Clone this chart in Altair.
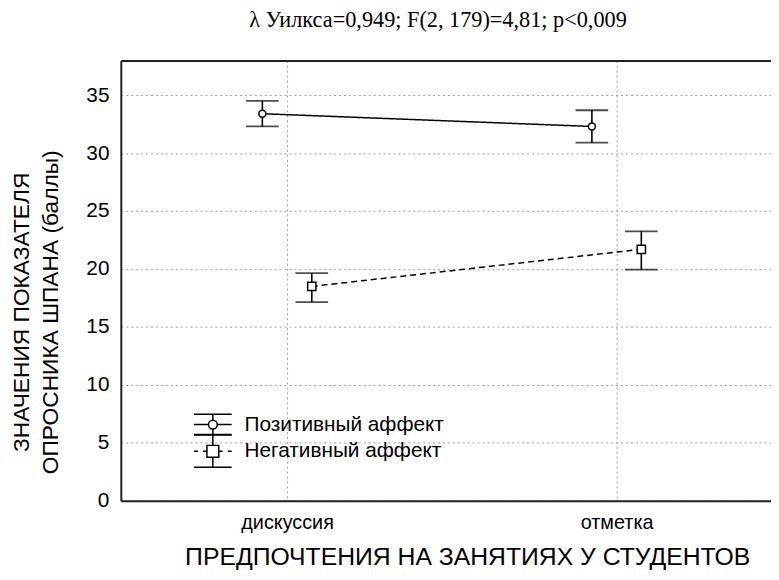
import json
import altair as alt
import pandas as pd

# ---- data ----
categories = ["дискуссия", "отметка"]
series_names = ["Позитивный аффект", "Негативный аффект"]
pos_mean = [33.4, 32.3]
pos_hi = [34.5, 33.7]
pos_lo = [32.3, 30.9]
neg_mean = [18.5, 21.7]
neg_hi = [19.65, 23.25]
neg_lo = [17.15, 19.95]
y_ticks = [0, 5, 10, 15, 20, 25, 30, 35]

title_text = "λ Уилкса=0,949; F(2, 179)=4,81; p<0,009"
x_title = "ПРЕДПОЧТЕНИЯ НА ЗАНЯТИЯХ У СТУДЕНТОВ"
y_title = ["ЗНАЧЕНИЯ ПОКАЗАТЕЛЯ", "ОПРОСНИКА ШПАНА (баллы)"]

rows = []
for i, c in enumerate(categories):
    rows.append(dict(cat=c, idx=i, sidx=0, series=series_names[0],
                     mean=pos_mean[i], hi=pos_hi[i], lo=pos_lo[i]))
    rows.append(dict(cat=c, idx=i, sidx=1, series=series_names[1],
                     mean=neg_mean[i], hi=neg_hi[i], lo=neg_lo[i]))
df = pd.DataFrame(rows)

FONT = "Liberation Sans"
INK = "#000000"
FRAME = "#222222"

xscale = alt.Scale(domain=[-0.5045, 1.4685], nice=False, zero=False)
yscale = alt.Scale(domain=[0, 38], nice=False, zero=True)

cat_js = json.dumps(categories, ensure_ascii=False)

x_axis = alt.Axis(values=[0, 1], labelExpr=f"{cat_js}[datum.value]",
                  title=x_title, grid=True, gridDash=[2, 3], gridColor="#9a9a9a",
                  gridWidth=1, ticks=False, domainColor=FRAME, domainWidth=2,
                  labelFont=FONT, labelFontSize=20, labelColor=INK, labelPadding=12,
                  titleFont=FONT, titleFontSize=25, titleFontWeight="normal",
                  titleColor=INK, titleX=350, titleY=44, titleBaseline="top",
                  titleAlign="center")
x_top_axis = alt.Axis(orient="top", labels=False, ticks=False, grid=False,
                      title=None, domainColor=FRAME, domainWidth=2)
y_axis = alt.Axis(values=y_ticks, title=y_title, grid=True, gridDash=[2, 3],
                  gridColor="#9a9a9a", gridWidth=1, ticks=False, domainColor=FRAME,
                  domainWidth=2, labelFont=FONT, labelFontSize=21, labelColor=INK,
                  labelPadding=12, titleFont=FONT, titleFontSize=23,
                  titleFontWeight="normal", titleColor=INK, titleLineHeight=29,
                  titleX=-111, titleY=254, titleBaseline="top", titleAlign="center",
                  titleAngle=270)

base = alt.Chart(df).transform_calculate(xp="datum.idx + (datum.sidx - 0.5) * 0.15")

x_main = alt.X("xp:Q", scale=xscale, axis=x_axis)
x_plain = alt.X("xp:Q", scale=xscale, axis=None)
x_top = alt.X("xp:Q", scale=xscale, axis=x_top_axis)

lines = base.mark_line(color=INK, strokeWidth=1.5).encode(
    x=x_main,
    y=alt.Y("mean:Q", scale=yscale, axis=y_axis),
    detail="series:N",
    strokeDash=alt.StrokeDash("series:N", scale=alt.Scale(domain=series_names,
                              range=[[1, 0], [6, 4]]), legend=None),
)

stems = base.mark_rule(color=INK, strokeWidth=1.6).encode(
    x=x_plain,
    y=alt.Y("lo:Q", scale=yscale, axis=y_axis),
    y2="hi:Q",
)

caps_hi = base.mark_tick(orient="horizontal", size=33, thickness=1.8, color=INK).encode(
    x=x_plain, y=alt.Y("hi:Q", scale=yscale, axis=y_axis))
caps_lo = base.mark_tick(orient="horizontal", size=33, thickness=1.8, color=INK).encode(
    x=x_plain, y=alt.Y("lo:Q", scale=yscale, axis=y_axis))

points = base.mark_point(filled=True, fill="white", stroke=INK, strokeWidth=1.5,
                         opacity=1).encode(
    x=x_plain,
    y=alt.Y("mean:Q", scale=yscale, axis=y_axis),
    shape=alt.Shape("series:N", scale=alt.Scale(domain=series_names,
                    range=["circle", "square"]), legend=None),
    size=alt.Size("series:N", scale=alt.Scale(domain=series_names, range=[50, 70]),
                  legend=None),
)

# legend glyphs (error bar + marker), unit = 16 px
path_pos = ("M-1.19,-0.66H1.19M-1.19,0.66H1.19M0,-0.66V-0.28M0,0.28V0.66"
            "M-1.19,0H-0.28M0.28,0H1.19"
            "M0.28,0A0.28,0.28,0,1,1,-0.28,0A0.28,0.28,0,1,1,0.28,0Z")
path_neg = ("M-1.19,-1.06H1.19M-1.19,1.0H1.19M0,-1.06V-0.375M0,0.375V1.0"
            "M-1.19,0H-0.94M-0.62,0H-0.375M0.375,0H0.62M0.94,0H1.19"
            "M-0.375,-0.375H0.375V0.375H-0.375Z")


def legend_layer(k, path, ly, x_enc):
    return base.transform_filter(f"datum.sidx == {k} && false").mark_point(
        filled=False, color=INK, strokeWidth=1.5, opacity=1).encode(
        x=x_enc,
        y=alt.Y("mean:Q", scale=yscale, axis=y_axis),
        shape=alt.Shape("series:N",
                        scale=alt.Scale(domain=[series_names[k]], range=[path]),
                        legend=alt.Legend(title=None, orient="none", legendX=76,
                                          legendY=ly, symbolSize=1024,
                                          symbolStrokeWidth=1.5, symbolStrokeColor=INK,
                                          symbolFillColor="white", symbolOpacity=1,
                                          labelFont=FONT, labelFontSize=21,
                                          labelColor=INK, labelOffset=15,
                                          labelLimit=400, padding=0)),
    )


leg_pos = legend_layer(0, path_pos, 351, x_top)
leg_neg = legend_layer(1, path_neg, 378, x_plain)

chart = alt.layer(lines, stems, caps_hi, caps_lo, points, leg_pos, leg_neg).resolve_scale(
    shape="independent", size="independent"
).resolve_axis(x="independent").properties(
    width=657, height=445,
    autosize=alt.AutoSizeParams(type="none"),
    padding={"left": 114, "top": 50, "right": 0, "bottom": 69},
    title=alt.TitleParams(text=title_text, font="Liberation Serif", fontSize=22.5,
                          fontWeight="normal", color=INK, anchor="middle", dx=-8,
                          offset=11, baseline="alphabetic"),
).configure_view(stroke="transparent").configure(background="white")

chart.save("out.html", embed_options={"renderer": "svg", "actions": False})
